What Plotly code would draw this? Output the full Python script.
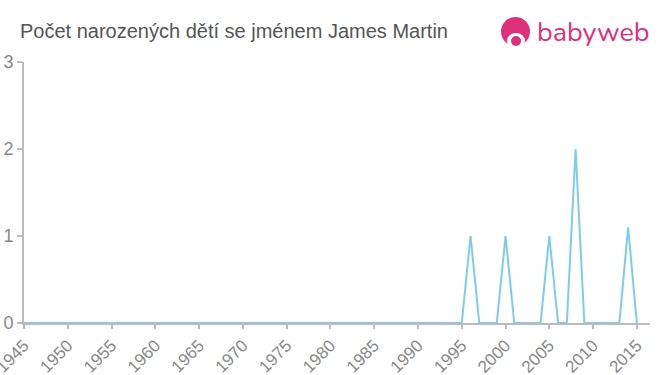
import plotly.graph_objects as go

years = list(range(1945, 2016))
peaks = {1996: 1, 2000: 1, 2005: 1, 2008: 2, 2014: 1.1}
counts = [peaks.get(y, 0) for y in years]
x_ticks = list(range(1945, 2016, 5))
y_ticks = [0, 1, 2, 3]
title = "Počet narozených dětí se jménem James Martin"

fig = go.Figure()
fig.add_trace(go.Scatter(x=years, y=counts, mode="lines",
                         line=dict(color="#7dcdea", width=2), hoverinfo="x+y"))

fig.update_layout(
    width=660, height=375,
    margin=dict(l=24, r=10, t=62, b=52, autoexpand=False),
    paper_bgcolor="white", plot_bgcolor="white",
    showlegend=False,
    font=dict(family="Arial, Liberation Sans, sans-serif", color="#888"),
    title=dict(text=title, x=20 / 660, xanchor="left", xref="container",
               y=1 - 31 / 375, yanchor="middle", yref="container",
               font=dict(size=20, color="#555")),
    xaxis=dict(range=[1945, 2016.5], tickvals=x_ticks, ticktext=[str(v) for v in x_ticks],
               tickangle=-45, tickfont=dict(size=17, color="#888"), automargin=False,
               ticklabeloverflow="allow",
               showgrid=False, zeroline=False, showline=True, linecolor="#bbb", linewidth=2,
               ticks="outside", ticklen=4, tickcolor="#bbb", tickwidth=2),
    yaxis=dict(range=[0, 3], tickvals=y_ticks, tickfont=dict(size=18, color="#888"), automargin=False,
               showgrid=False, zeroline=False, showline=True, linecolor="#bbb", linewidth=2,
               ticks="outside", ticklen=5, tickcolor="#bbb", tickwidth=2),
)

def px(xp):
    return (xp - 24) / 626

def py(yp):
    return (323 - yp) / 261

# logo
pink = "#e0307a"
fig.add_shape(type="circle", xref="paper", yref="paper",
              x0=px(501), x1=px(530), y0=py(46), y1=py(17),
              fillcolor=pink, line=dict(width=0))
fig.add_shape(type="circle", xref="paper", yref="paper",
              x0=px(507), x1=px(525), y0=py(49), y1=py(33),
              fillcolor="white", line=dict(width=0))
fig.add_shape(type="circle", xref="paper", yref="paper",
              x0=px(511), x1=px(521), y0=py(46), y1=py(36),
              fillcolor=pink, line=dict(width=0))
fig.add_annotation(text="babyweb", xref="paper", yref="paper",
                   x=px(652), y=py(33), xanchor="right", yanchor="middle",
                   showarrow=False, font=dict(size=27, color=pink, family="Nunito, Lato, sans-serif"))

fig.write_html("out.html", config={"displayModeBar": False},
               post_script="document.body.style.margin='0';document.body.style.overflow='hidden';")
